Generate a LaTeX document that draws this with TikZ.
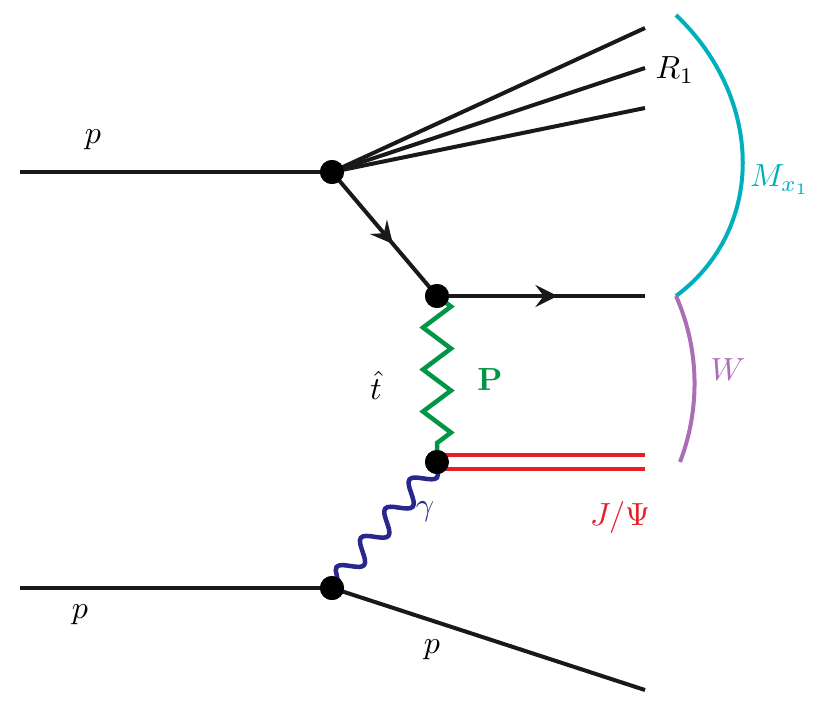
\documentclass[tikz,border=0pt]{standalone}
\usepackage{tikz}
\usetikzlibrary{decorations.pathmorphing,decorations.markings}
\definecolor{pomcol}{RGB}{0,150,70}
\definecolor{gamcol}{RGB}{40,40,140}
\definecolor{jpsicol}{RGB}{230,30,40}
\definecolor{mxcol}{RGB}{0,175,190}
\definecolor{wcol}{RGB}{170,110,180}
\tikzset{
  vertex/.style={circle,fill=black,inner sep=0pt,minimum size=24pt},
  line/.style={line width=4pt,black!90},
  fermion/.style={line,postaction={decorate},decoration={markings,
    mark=at position 0.58 with {\arrow[scale=1.9]{stealth}}}},
  lbl/.style={scale=3.2,inner sep=0pt}
}
\begin{document}
\begin{tikzpicture}[x=1pt,y=-1pt]
\useasboundingbox (0,0) rectangle (830,707);

% vertices
\node[vertex] (A) at (332,172) {};
\node[vertex] (B) at (437,296) {};
\node[vertex] (C) at (437,462) {};
\node[vertex] (D) at (332,588) {};

% free ends
\coordinate (pin1) at (20,172);
\coordinate (pin2) at (20,588);
\coordinate (j1) at (645,28);
\coordinate (j2) at (645,68);
\coordinate (j3) at (645,108);
\coordinate (qout) at (645,296);
\coordinate (psiout) at (645,462);
\coordinate (pout) at (645,690);

% proton lines
\draw[line] (pin1) -- (A.center);
\draw[line] (A.center) -- (j1);
\draw[line] (A.center) -- (j2);
\draw[line] (A.center) -- (j3);
\draw[fermion] (A.center) -- (B.center);
\draw[fermion] (B.center) -- (qout);
\draw[line] (pin2) -- (D.center);
\draw[line] (D.center) -- (pout);

% exchanges
\draw[line width=4.5pt,pomcol,decorate,decoration={zigzag,segment length=42pt,amplitude=14pt}] (B.center) -- (C.center);
\draw[line width=4.5pt,gamcol,decorate,decoration={snake,segment length=38pt,amplitude=10pt}] (C.center) -- (D.center);
\draw[line width=4pt,jpsicol,double=white,double distance=10pt] (C.center) -- (psiout);
\node[vertex] at (A) {};
\node[vertex] at (B) {};
\node[vertex] at (C) {};
\node[vertex] at (D) {};

% mass arcs
\draw[line width=4pt,mxcol] (676,15) .. controls (765,100) and (765,230) .. (676,296);
\draw[line width=4pt,wcol] (676,296) .. controls (700,350) and (700,410) .. (680,462);

% labels
\node[lbl] (lp1) at (93,140) {$p$};
\node[lbl] (lp2) at (80,615) {$p$};
\node[lbl] (lp3) at (432,650) {$p$};
\node[lbl] (lr1) at (675,70) {$R_1$};
\node[lbl,text=mxcol] (lmx) at (780,180) {$M_{x_1}$};
\node[lbl,text=wcol] (lw) at (728,370) {$W$};
\node[lbl] (lt) at (376,385) {$\hat{t}$};
\node[lbl,text=pomcol] (lpom) at (490,380) {$\mathbf{P}$};
\node[lbl,text=gamcol] (lgam) at (425,512) {$\gamma$};
\node[lbl,text=jpsicol] (lpsi) at (620,517) {$J/\Psi$};
\end{tikzpicture}
\end{document}
